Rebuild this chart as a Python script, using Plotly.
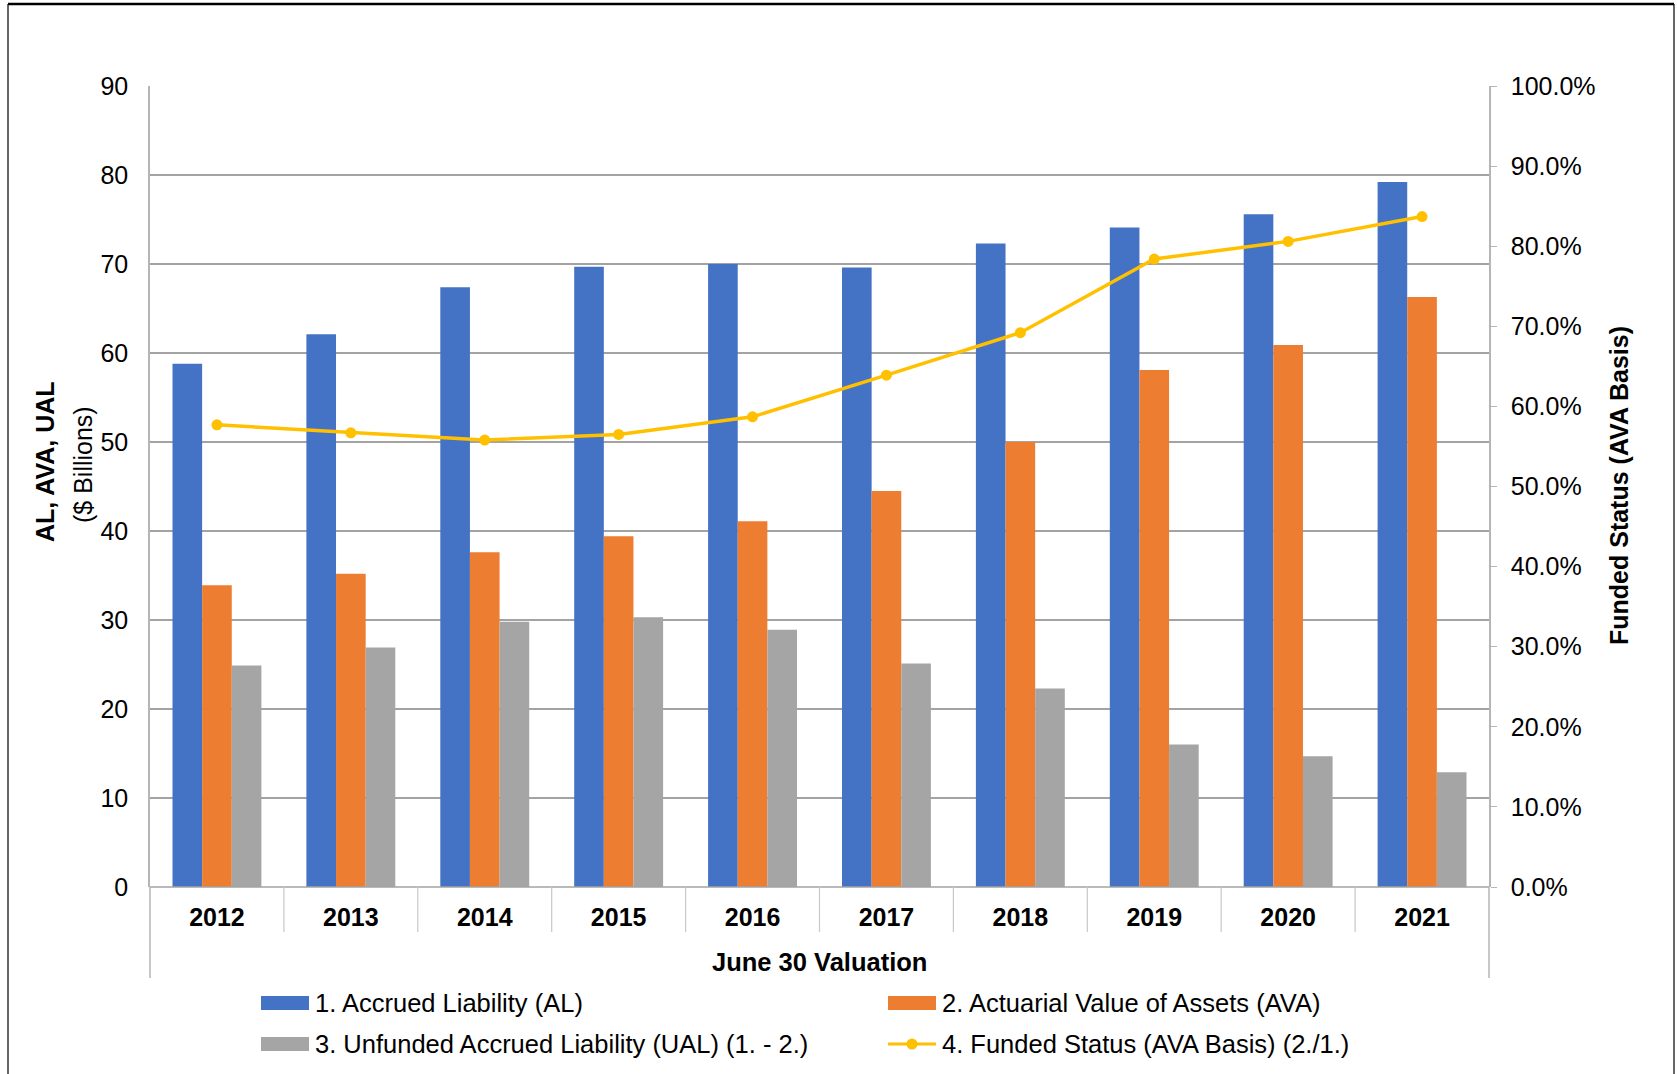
import plotly.graph_objects as go

# Valuation years and results ($ billions)
years = ["2012", "2013", "2014", "2015", "2016", "2017", "2018", "2019", "2020", "2021"]
accrued_liability = [58.8, 62.1, 67.4, 69.7, 70.0, 69.6, 72.3, 74.1, 75.6, 79.2]
actuarial_assets = [33.9, 35.2, 37.6, 39.4, 41.1, 44.5, 50.0, 58.1, 60.9, 66.3]
unfunded_liability = [24.9, 26.9, 29.8, 30.3, 28.9, 25.1, 22.3, 16.0, 14.7, 12.9]
funded_status = [0.577, 0.567, 0.558, 0.565, 0.587, 0.639, 0.692, 0.784, 0.806, 0.837]

series_names = [
    "1. Accrued Liability (AL)",
    "2. Actuarial Value of Assets (AVA)",
    "3. Unfunded Accrued Liability (UAL) (1. - 2.)",
    "4. Funded Status (AVA Basis) (2./1.)",
]
colors = ["#4472C4", "#ED7D31", "#A5A5A5", "#FFC000"]

W, H = 1677, 1074
ML, MR, MT, MB = 150, 188, 86, 187
PW, PH = W - ML - MR, H - MT - MB
FONT = "Liberation Sans, Arial, sans-serif"
TXT = "#000000"
GRID = "#A3A3A3"
FS = 25


def px(x):
    return (x - ML) / PW


def py(y):
    return (H - MB - y) / PH


fig = go.Figure()
for vals, name, col in zip([accrued_liability, actuarial_assets, unfunded_liability],
                           series_names[:3], colors[:3]):
    fig.add_trace(go.Bar(x=years, y=vals, name=name, marker=dict(color=col, line=dict(width=0)),
                         showlegend=False))

fig.add_trace(go.Scatter(x=years, y=funded_status, name=series_names[3], yaxis="y2",
                         mode="lines+markers", line=dict(color=colors[3], width=3.5),
                         marker=dict(size=11, color=colors[3]), showlegend=False))

fig.update_layout(
    width=W, height=H,
    margin=dict(l=ML, r=MR, t=MT, b=MB, autoexpand=False),
    paper_bgcolor="white", plot_bgcolor="white",
    barmode="group", bargap=0.336, bargroupgap=0,
    font=dict(family=FONT, size=FS, color=TXT),
    xaxis=dict(type="category", range=[-0.5, len(years) - 0.5], showgrid=False,
               showline=False, ticks="",
               tickfont=dict(family=FONT, size=FS, color=TXT, weight="bold"),
               ticklabelstandoff=13),
    yaxis=dict(range=[0, 90], dtick=10, showgrid=True, gridcolor=GRID, gridwidth=1.5,
               showline=True, linecolor="#B5B5B5", linewidth=1.5, ticks="",
               zeroline=False, tickfont=dict(family=FONT, size=FS, color=TXT),
               ticklabelstandoff=15),
    yaxis2=dict(range=[0, 1], dtick=0.1, tickformat=".1%", overlaying="y", side="right",
                showgrid=False, zeroline=False, showline=True, linecolor="#B5B5B5",
                linewidth=1.5, ticks="outside", ticklen=6, tickcolor="#B5B5B5",
                tickfont=dict(family=FONT, size=FS, color=TXT), ticklabelstandoff=9),
)

shapes = []
# bottom axis line
shapes.append(dict(type="line", xref="paper", yref="paper", x0=0, x1=1, y0=0, y1=0,
                   line=dict(color="#A3A3A3", width=1.5)))
# category dividers
for i in range(1, len(years)):
    shapes.append(dict(type="line", xref="x", yref="paper", x0=i - 0.5, x1=i - 0.5,
                       y0=0, y1=py(932), line=dict(color="#C8C8C8", width=1.2)))
# outer axis lines extending below the categories
for xv in (0, 1):
    shapes.append(dict(type="line", xref="paper", yref="paper", x0=xv, x1=xv,
                       y0=0, y1=py(978), line=dict(color="#B5B5B5", width=1.5)))
# outer frame
shapes.append(dict(type="line", xref="paper", yref="paper", x0=px(8), x1=px(1674),
                   y0=py(4), y1=py(4), line=dict(color="#000000", width=2.5)))
for xx in (8, 1674):
    shapes.append(dict(type="line", xref="paper", yref="paper", x0=px(xx), x1=px(xx),
                       y0=py(4), y1=py(1080), line=dict(color="#000000", width=1.2)))

annotations = []
# axis titles
annotations.append(dict(text="<b>AL, AVA, UAL</b>", xref="paper", yref="paper",
                        x=px(45), y=py(462), textangle=-90, showarrow=False,
                        xanchor="center", yanchor="middle",
                        font=dict(family=FONT, size=FS, color=TXT)))
annotations.append(dict(text="($ Billions)", xref="paper", yref="paper",
                        x=px(83), y=py(465), textangle=-90, showarrow=False,
                        xanchor="center", yanchor="middle",
                        font=dict(family=FONT, size=FS, color=TXT)))
annotations.append(dict(text="<b>Funded Status (AVA Basis)</b>", xref="paper", yref="paper",
                        x=px(1619), y=py(486), textangle=-90, showarrow=False,
                        xanchor="center", yanchor="middle",
                        font=dict(family=FONT, size=FS, color=TXT)))
annotations.append(dict(text="<b>June 30 Valuation</b>", xref="paper", yref="paper",
                        x=0.5, y=py(962), showarrow=False, xanchor="center", yanchor="middle",
                        font=dict(family=FONT, size=FS + 0.5, color=TXT)))

# legend block: two columns, two rows
legend_pos = [(261, 1003), (888, 1003), (261, 1044), (888, 1044)]
for k, ((lx, ly), name, col) in enumerate(zip(legend_pos, series_names, colors)):
    if k < 3:
        shapes.append(dict(type="rect", xref="paper", yref="paper",
                           x0=px(lx), x1=px(lx + 48), y0=py(ly - 7), y1=py(ly + 7),
                           fillcolor=col, line=dict(width=0)))
    else:
        shapes.append(dict(type="line", xref="paper", yref="paper",
                           x0=px(lx), x1=px(lx + 48), y0=py(ly), y1=py(ly),
                           line=dict(color=col, width=3)))
        shapes.append(dict(type="circle", xref="paper", yref="paper",
                           x0=px(lx + 24 - 5.5), x1=px(lx + 24 + 5.5),
                           y0=py(ly - 5.5), y1=py(ly + 5.5),
                           fillcolor=col, line=dict(width=0)))
    annotations.append(dict(text=name, xref="paper", yref="paper", x=px(lx + 52), y=py(ly),
                            showarrow=False, xanchor="left", yanchor="middle",
                            font=dict(family=FONT, size=25.5, color=TXT)))

fig.update_layout(shapes=shapes, annotations=annotations)
fig.write_html("out.html")
